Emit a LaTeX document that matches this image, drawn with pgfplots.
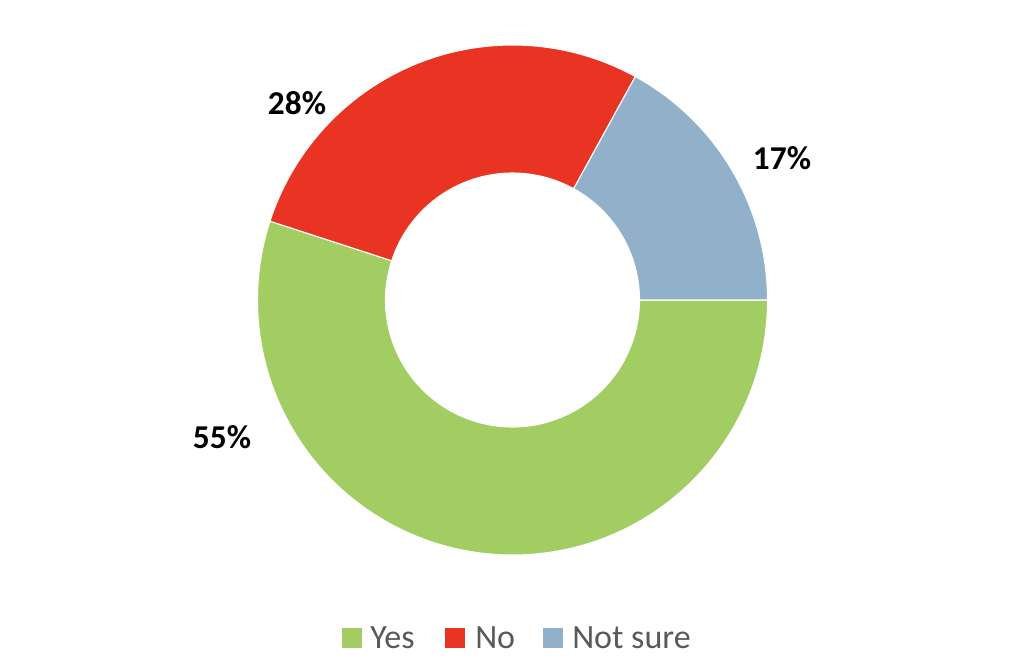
\documentclass[border=0pt]{standalone}
\usepackage{pgfplots}
\pgfplotsset{compat=1.18}
\usepackage{pgfplotstable}
\usepackage{fontspec}
\setmainfont{Carlito}
\definecolor{cyes}{HTML}{A2CD63}
\definecolor{cno}{HTML}{E93323}
\definecolor{cns}{HTML}{91B1CB}
\definecolor{legtext}{HTML}{595959}

\pgfplotstableread{
label value
Yes 55
No 28
Notsure 17
}\donutdata

\begin{document}
\begin{tikzpicture}
\pgfplotstablegetelem{0}{value}\of\donutdata \let\vA\pgfplotsretval
\pgfplotstablegetelem{1}{value}\of\donutdata \let\vB\pgfplotsretval
\pgfplotstablegetelem{2}{value}\of\donutdata \let\vC\pgfplotsretval
\pgfmathsetmacro\aA{0}
\pgfmathsetmacro\aB{\aA-3.6*\vA}
\pgfmathsetmacro\aC{\aB-3.6*\vB}
\pgfmathsetmacro\aD{\aC-3.6*\vC}
\def\Ro{191.25pt}
\def\Ri{95.25pt}
\begin{axis}[
  x=0.75pt, y=0.75pt,
  xmin=0, xmax=1024, ymin=0, ymax=668,
  hide axis, clip=false,
]
\path (axis cs:0,0) rectangle (axis cs:1024,668);
\fill[cyes, draw=white, line width=0.8pt] ([shift={(\aA:\Ro)}]axis cs:512.5,368) arc[start angle=\aA, end angle=\aB, radius=\Ro]
  -- ([shift={(\aB:\Ri)}]axis cs:512.5,368) arc[start angle=\aB, end angle=\aA, radius=\Ri] -- cycle;
\fill[cno, draw=white, line width=0.8pt] ([shift={(\aB:\Ro)}]axis cs:512.5,368) arc[start angle=\aB, end angle=\aC, radius=\Ro]
  -- ([shift={(\aC:\Ri)}]axis cs:512.5,368) arc[start angle=\aC, end angle=\aB, radius=\Ri] -- cycle;
\fill[cns, draw=white, line width=0.8pt] ([shift={(\aC:\Ro)}]axis cs:512.5,368) arc[start angle=\aC, end angle=\aD, radius=\Ro]
  -- ([shift={(\aD:\Ri)}]axis cs:512.5,368) arc[start angle=\aD, end angle=\aC, radius=\Ri] -- cycle;
% data labels
\node[inner sep=0, font=\fontsize{25}{30}\selectfont\bfseries] at (axis cs:297,564.5) {28\%};
\node[inner sep=0, font=\fontsize{25}{30}\selectfont\bfseries] at (axis cs:782,509.5) {17\%};
\node[inner sep=0, font=\fontsize{25}{30}\selectfont\bfseries] at (axis cs:222,230.5) {55\%};
% legend
\fill[cyes] (axis cs:342,20) rectangle (axis cs:362,40);
\fill[cno] (axis cs:445,20) rectangle (axis cs:465,40);
\fill[cns] (axis cs:543,20) rectangle (axis cs:563,40);
\node[inner sep=0, anchor=base west, text=legtext, font=\fontsize{25.5}{30}\selectfont] at (axis cs:370,20) {Yes};
\node[inner sep=0, anchor=base west, text=legtext, font=\fontsize{25.5}{30}\selectfont] at (axis cs:475,20) {No};
\node[inner sep=0, anchor=base west, text=legtext, font=\fontsize{25.5}{30}\selectfont] at (axis cs:572,20) {Not sure};
\end{axis}
\end{tikzpicture}
\end{document}
